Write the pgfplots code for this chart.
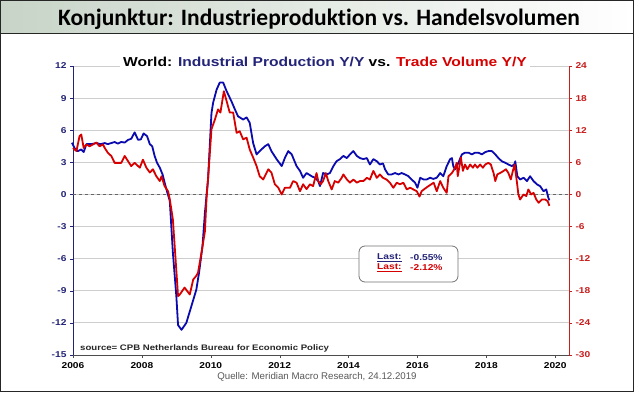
\documentclass[border=0pt]{standalone}
\usepackage{pgfplots}
\pgfplotsset{compat=1.18}
\usepackage{fontspec}
\setmainfont{Liberation Sans}[FakeStretch=1.2]
\newfontfamily\plainfont{Liberation Sans}
\newfontfamily\titlefont{Carlito}[Ligatures=NoCommon]
\definecolor{ipblue}{RGB}{10,10,175}
\definecolor{trred}{RGB}{215,0,0}
\definecolor{navy}{RGB}{35,35,120}
\definecolor{axred}{RGB}{200,30,30}
\definecolor{gridgray}{RGB}{205,205,205}
\definecolor{bannerL}{RGB}{200,212,200}
\begin{document}
\begin{tikzpicture}[x=1pt,y=1pt]
\useasboundingbox (0,0) rectangle (634,392);
\fill[white] (0,0) rectangle (634,392);
\shade[left color=bannerL, right color=white] (0,358) rectangle (634,392);
\draw[line width=1pt, black!85] (0,358) -- (634,358);
\node[font=\titlefont\bfseries\fontsize{23.5}{26}\selectfont, inner sep=0] at (319,373) {Konjunktur: Industrieproduktion vs. Handelsvolumen};

\begin{axis}[at={(73pt,37pt)}, anchor=south west, scale only axis,
  width=496pt, height=289pt,
  xmin=2006, xmax=2020.4, ymin=-15, ymax=12,
  xtick={2006,2008,...,2020}, ytick={-15,-12,...,12},
  axis y line*=left, axis x line*=bottom,
  x axis line style={-, black!70, line width=0.8pt},
  y axis line style={-, navy, line width=0.8pt},
  ymajorgrids, grid style={gridgray, line width=1pt},
  tick align=outside, major tick length=3pt,
  xtick style={black!70}, ytick style={navy},
  /pgf/number format/assume math mode=true,
  /pgf/number format/1000 sep={},
  xticklabel style={font=\bfseries\fontsize{8.5}{10}\selectfont, black, yshift=-1pt},
  yticklabel style={font=\bfseries\fontsize{8.5}{10}\selectfont, navy},
  clip=false]
\draw[dashed, black!60, line width=0.9pt] (axis cs:2006,0) -- (axis cs:2020.4,0);
\addplot[ipblue, line width=1.8pt, line join=round] coordinates {
(2005.97,4.83)(2006.05,4.3)(2006.14,4.05)(2006.24,4.2)(2006.31,3.96)(2006.39,4.7)(2006.53,4.7)(2006.68,4.8)(2006.8,4.7)(2006.92,4.8)
(2007.01,4.7)(2007.11,4.8)(2007.21,4.9)(2007.3,4.75)(2007.4,4.9)(2007.5,4.85)(2007.6,5.1)(2007.69,5.2)(2007.79,5.8)(2007.89,5.1)
(2007.97,5.15)(2008.05,5.7)(2008.15,5.45)(2008.23,4.7)(2008.30,4.5)(2008.37,3.6)(2008.44,2.96)(2008.52,2.5)(2008.6,1.87)(2008.66,1.1)
(2008.74,0.16)(2008.81,-0.6)(2008.9,-5.45)(2009.0,-9.5)(2009.05,-12.2)(2009.15,-12.65)(2009.29,-12.0)(2009.44,-10.4)(2009.58,-8.9)
(2009.66,-7.3)(2009.76,-4.8)(2009.83,-1.7)(2009.92,1.4)(2010.02,7.6)(2010.07,8.6)(2010.17,9.8)(2010.26,10.45)(2010.36,10.45)
(2010.46,9.65)(2010.6,8.7)(2010.7,7.95)(2010.79,7.3)(2010.94,7.0)(2011.04,7.2)(2011.13,6.7)(2011.23,4.8)(2011.33,3.74)(2011.42,4.05)
(2011.57,4.5)(2011.67,4.7)(2011.76,4.05)(2011.91,3.3)(2012.06,2.65)(2012.15,3.4)(2012.25,4.05)(2012.35,3.74)(2012.49,2.65)
(2012.59,2.2)(2012.68,1.56)(2012.78,2.0)(2012.93,1.7)(2013.02,1.56)(2013.12,1.25)(2013.17,0.78)(2013.26,2.0)(2013.36,1.87)
(2013.46,2.0)(2013.56,2.65)(2013.65,3.1)(2013.75,3.3)(2013.85,3.6)(2013.95,3.4)(2014.04,3.74)(2014.14,4.05)(2014.24,3.6)
(2014.33,3.4)(2014.43,3.3)(2014.53,3.4)(2014.62,2.8)(2014.72,3.3)(2014.82,3.1)(2014.91,2.8)(2015.0,2.9)(2015.06,2.34)
(2015.15,1.87)(2015.25,1.87)(2015.35,2.0)(2015.45,1.87)(2015.54,2.0)(2015.64,1.87)(2015.74,1.7)(2015.83,1.4)(2015.93,1.1)
(2016.0,0.63)(2016.08,1.56)(2016.18,1.4)(2016.27,1.4)(2016.37,1.56)(2016.46,1.45)(2016.56,1.56)(2016.66,2.0)(2016.75,1.7)
(2016.85,2.65)(2016.95,3.3)(2017.0,3.4)(2017.04,2.65)(2017.09,2.34)(2017.19,2.96)(2017.29,3.74)(2017.38,3.9)(2017.48,3.9)
(2017.58,3.74)(2017.67,3.9)(2017.77,3.9)(2017.87,3.74)(2017.97,3.96)(2018.06,4.05)(2018.16,4.05)(2018.26,3.74)(2018.35,3.4)
(2018.45,3.1)(2018.55,2.96)(2018.64,2.8)(2018.74,2.65)(2018.81,2.8)(2018.84,3.1)(2018.9,1.7)(2018.98,1.4)(2019.08,1.56)
(2019.18,1.25)(2019.27,1.7)(2019.37,1.25)(2019.47,0.94)(2019.56,0.78)(2019.66,0.3)(2019.74,0.47)(2019.8,-0.3)(2019.83,-0.55)
};
\end{axis}

\begin{axis}[at={(73pt,37pt)}, anchor=south west, scale only axis,
  width=496pt, height=289pt,
  xmin=2006, xmax=2020.4, ymin=-30, ymax=24,
  ytick={-30,-24,...,24},
  axis y line*=right, axis x line=none,
  y axis line style={-, axred, line width=0.8pt},
  tick align=outside, major tick length=3pt,
  ytick style={axred},
  /pgf/number format/assume math mode=true,
  yticklabel style={font=\bfseries\fontsize{8.5}{10}\selectfont, axred},
  clip=false]
\addplot[trred, line width=1.8pt, line join=round] coordinates {
(2006.0,8.7)(2006.1,8.1)(2006.19,10.9)(2006.24,11.2)(2006.31,8.7)(2006.39,9.35)(2006.48,9.0)(2006.58,9.35)(2006.68,9.7)(2006.77,9.0)
(2006.87,9.35)(2006.92,8.7)(2007.01,7.8)(2007.11,7.2)(2007.21,5.9)(2007.3,5.9)(2007.4,5.9)(2007.5,7.2)(2007.6,6.2)(2007.69,5.3)
(2007.79,5.9)(2007.94,5.0)(2008.03,6.5)(2008.13,5.0)(2008.23,4.1)(2008.32,4.7)(2008.42,3.4)(2008.52,2.5)(2008.57,3.4)(2008.66,1.55)
(2008.76,0.6)(2008.81,-0.9)(2008.9,-4.7)(2009.05,-19.0)(2009.1,-18.7)(2009.24,-17.4)(2009.39,-18.7)(2009.49,-15.9)(2009.58,-15.2)
(2009.63,-14.6)(2009.73,-10.9)(2009.83,-6.9)(2009.88,-0.3)(2009.92,2.8)(2010.02,12.2)(2010.12,14.0)(2010.21,15.9)(2010.28,15.3)
(2010.38,19.3)(2010.47,17.2)(2010.55,15.3)(2010.65,15.3)(2010.75,11.5)(2010.84,11.8)(2010.94,10.3)(2011.04,10.6)(2011.13,8.4)
(2011.23,6.9)(2011.33,5.3)(2011.42,3.4)(2011.52,2.8)(2011.67,4.7)(2011.76,4.1)(2011.86,1.9)(2011.96,1.25)(2012.06,0)(2012.15,1.25)
(2012.3,1.25)(2012.39,2.5)(2012.49,2.2)(2012.59,0.6)(2012.68,1.9)(2012.78,1.0)(2012.88,1.9)(2012.97,1.56)(2013.07,4.0)(2013.12,2.5)
(2013.19,1.9)(2013.26,2.5)(2013.34,4.0)(2013.41,2.5)(2013.51,0.94)(2013.6,2.5)(2013.7,2.2)(2013.8,3.1)(2013.85,3.74)(2013.95,2.8)
(2014.04,2.2)(2014.14,2.8)(2014.24,2.2)(2014.33,2.5)(2014.43,2.5)(2014.53,3.1)(2014.62,2.8)(2014.72,4.4)(2014.82,3.1)(2014.91,3.74)
(2015.0,3.1)(2015.1,2.8)(2015.2,2.2)(2015.3,1.25)(2015.4,2.2)(2015.49,1.9)(2015.59,2.2)(2015.69,0.94)(2015.79,1.25)(2015.88,0.94)
(2015.98,0.6)(2016.06,-0.4)(2016.12,0.6)(2016.22,1.1)(2016.32,1.56)(2016.4,1.9)(2016.47,2.2)(2016.56,0.6)(2016.66,2.5)(2016.75,1.25)
(2016.85,0.3)(2016.9,3.4)(2017.0,4.0)(2017.04,4.4)(2017.09,5.0)(2017.14,5.9)(2017.17,3.4)(2017.22,5.3)(2017.26,6.9)(2017.32,4.4)
(2017.38,5.6)(2017.45,4.7)(2017.53,5.6)(2017.61,5.0)(2017.67,5.6)(2017.74,5.0)(2017.82,5.6)(2017.9,5.0)(2017.97,5.6)(2018.06,5.9)
(2018.13,5.6)(2018.21,4.0)(2018.26,2.5)(2018.32,3.74)(2018.4,4.0)(2018.5,4.4)(2018.57,4.7)(2018.64,4.0)(2018.71,2.8)(2018.77,4.4)
(2018.82,5.6)(2018.89,2.2)(2018.93,0)(2018.98,-0.94)(2019.08,0)(2019.16,-0.3)(2019.22,0.94)(2019.3,0)(2019.37,0.3)(2019.45,-0.94)
(2019.52,-1.56)(2019.61,-0.94)(2019.71,-0.94)(2019.78,-1.25)(2019.83,-2.12)
};
\end{axis}

% chart title
\node[fill=white, inner xsep=3pt, inner ysep=1pt, font=\bfseries\fontsize{13}{15}\selectfont] at (325,330)
  {World: \textcolor{navy}{Industrial Production Y/Y} vs. \textcolor{trred}{Trade Volume Y/Y}};
% source
\node[anchor=south west, inner sep=0, font=\bfseries\fontsize{8}{9}\selectfont, black!85] at (80,40)
  {source= CPB Netherlands Bureau for Economic Policy};
% Last box
\draw[rounded corners=6pt, black!55, line width=0.8pt, fill=white] (359,110) rectangle (458,146);
\node[anchor=west, inner sep=0, font=\bfseries\fontsize{8.5}{9}\selectfont, navy] at (377,134.5) {\underline{Last:}};
\node[anchor=west, inner sep=0, font=\bfseries\fontsize{8.5}{9}\selectfont, navy] at (410,134.5) {-0.55\%};
\node[anchor=west, inner sep=0, font=\bfseries\fontsize{8.5}{9}\selectfont, trred] at (377,124.5) {\underline{Last:}};
\node[anchor=west, inner sep=0, font=\bfseries\fontsize{8.5}{9}\selectfont, trred] at (410,124.5) {-2.12\%};
% footer
\node[font=\plainfont\fontsize{9.7}{11}\selectfont, black!65] at (317,15) {Quelle: Meridian Macro Research, 24.12.2019};
% frame
\draw[line width=1.4pt, black!85] (0.7,0.7) rectangle (633.3,391.3);
\end{tikzpicture}
\end{document}
